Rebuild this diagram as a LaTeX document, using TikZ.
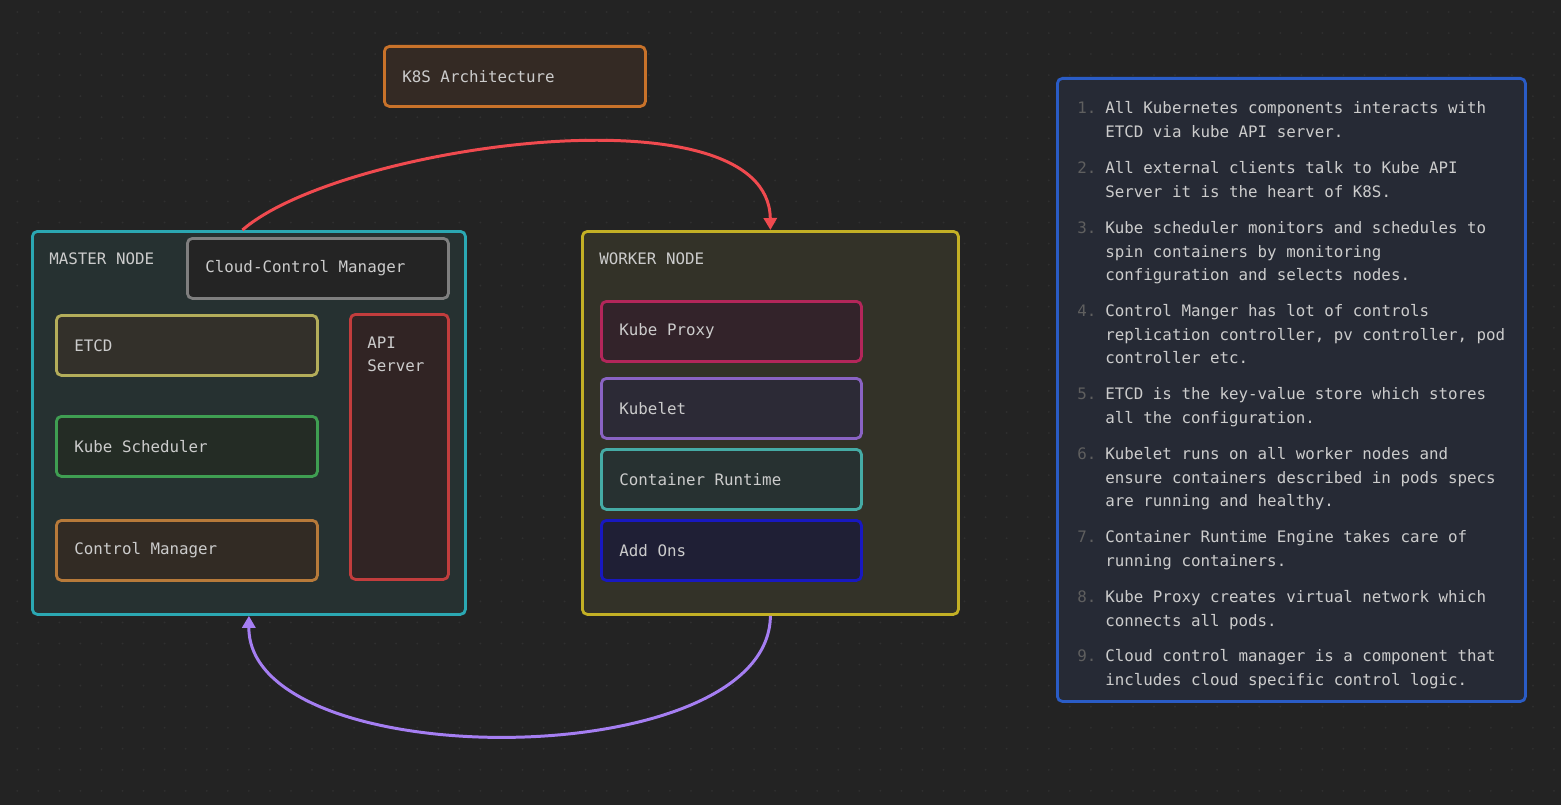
\documentclass[tikz,border=0pt]{standalone}
\usepackage{fontspec}
\setmainfont{DejaVu Sans Mono}
\usetikzlibrary{arrows.meta}

\definecolor{bgc}{HTML}{232323}
\definecolor{dotc}{HTML}{303030}
\definecolor{txtc}{HTML}{CCCCCC}
\definecolor{numc}{HTML}{5F5F5F}
\definecolor{titlec}{HTML}{C8722A}
\definecolor{titlef}{HTML}{342A24}
\definecolor{masterc}{HTML}{2BA8B3}
\definecolor{masterf}{HTML}{263131}
\definecolor{cloudc}{HTML}{7F7F7F}
\definecolor{cloudf}{HTML}{242424}
\definecolor{etcdc}{HTML}{B3AD5A}
\definecolor{etcdf}{HTML}{33302A}
\definecolor{schedc}{HTML}{3F9E52}
\definecolor{schedf}{HTML}{242C25}
\definecolor{ctrlc}{HTML}{B77A3A}
\definecolor{ctrlf}{HTML}{322B24}
\definecolor{apic}{HTML}{C23D3D}
\definecolor{apif}{HTML}{312424}
\definecolor{workerc}{HTML}{C3B025}
\definecolor{workerf}{HTML}{333228}
\definecolor{proxyc}{HTML}{B3265A}
\definecolor{proxyf}{HTML}{33232A}
\definecolor{kubeletc}{HTML}{8A63C4}
\definecolor{kubeletf}{HTML}{2C2A36}
\definecolor{runtimec}{HTML}{45ABA5}
\definecolor{runtimef}{HTML}{273131}
\definecolor{addonsc}{HTML}{1818C0}
\definecolor{addonsf}{HTML}{1F1F35}
\definecolor{notesc}{HTML}{2A5CC6}
\definecolor{notesf}{HTML}{262A35}
\definecolor{redc}{HTML}{F04A4F}
\definecolor{purplec}{HTML}{A57EF2}

\newcommand{\monofont}{\fontsize{9}{13.5}\selectfont}
\newcommand{\monospaces}{\spaceskip=5.42pt\relax\xspaceskip=5.42pt\relax}

\begin{document}
\begin{tikzpicture}[scale=0.2]
      \tikzstyle{every node}+=[font=\monofont, text=txtc, execute at begin node=\monospaces]
      \tikzstyle{box}=[draw, rounded corners=0.1cm, line width=1.6pt, anchor=north west, inner xsep=0.36cm, inner ysep=0pt, minimum height=1.2cm]
      \tikzstyle{lbl}=[inner sep=0pt, anchor=west]
      \tikzstyle{item}=[inner sep=0pt, anchor=base west, text width=8.2cm]
      \tikzstyle{num}=[inner sep=0pt, anchor=base west, text=numc]
      \tikzstyle{link}=[line width=1.7pt, -{Triangle[length=0.24cm,width=0.26cm]}]
      % canvas and dot grid
      \fill [bgc] (0,0) rectangle (156.1,-80.5);
      \useasboundingbox (0,0) rectangle (156.1,-80.5);
      \foreach \i in {0,...,73}
        \foreach \j in {0,...,37}
          \fill [dotc] (1.73+2.105*\i,-1.2-2.105*\j) circle (0.1);
      % title
      \node [box, draw=titlec, fill=titlef, text width=4.5cm] (title) at (38.3,-4.5) {K8S Architecture};
      % master node
      \node [box, draw=masterc, fill=masterf, minimum width=8.66cm, minimum height=7.66cm] (master) at (3.1,-23.0) {};
      \node [lbl] (masterlbl) at (4.9,-25.9) {MASTER NODE};
      \node [box, draw=cloudc, fill=cloudf, text width=4.5cm] (cloud) at (18.6,-23.7) {Cloud-Control Manager};
      \node [box, draw=etcdc, fill=etcdf, text width=4.5cm] (etcd) at (5.5,-31.4) {ETCD};
      \node [box, draw=schedc, fill=schedf, text width=4.5cm] (sched) at (5.5,-41.5) {Kube Scheduler};
      \node [box, draw=ctrlc, fill=ctrlf, text width=4.5cm] (ctrl) at (5.5,-51.9) {Control Manager};
      \node [box, draw=apic, fill=apif, minimum width=1.96cm, minimum height=5.3cm] (api) at (34.9,-31.3) {};
      \node [item, text width=1.5cm] (apilbl) at (36.7,-34.8) {API\\Server};
      % worker node
      \node [box, draw=workerc, fill=workerf, minimum width=7.52cm, minimum height=7.66cm] (worker) at (58.1,-23.0) {};
      \node [lbl] (workerlbl) at (59.9,-25.9) {WORKER NODE};
      \node [box, draw=proxyc, fill=proxyf, text width=4.48cm] (proxy) at (60.0,-30.0) {Kube Proxy};
      \node [box, draw=kubeletc, fill=kubeletf, text width=4.48cm] (kubelet) at (60.0,-37.7) {Kubelet};
      \node [box, draw=runtimec, fill=runtimef, text width=4.48cm] (runtime) at (60.0,-44.8) {Container Runtime};
      \node [box, draw=addonsc, fill=addonsf, text width=4.48cm] (addons) at (60.0,-51.9) {Add Ons};
      % links
      \draw [link, redc] ([xshift=-0.65cm]master.north) .. controls (34.0,-14.5) and (76.9,-8.5) .. (worker.north);
      \draw [link, purplec] (worker.south) .. controls (76.9,-77.6) and (24.8,-77.6) .. (master.south);
      % notes
      \node [box, draw=notesc, fill=notesf, minimum width=9.36cm, minimum height=12.46cm] (notes) at (105.6,-7.7) {};
      \node [num] (n1) at (107.7,-11.35) {1.};
      \node [item] (t1) at (110.5,-11.35) {All Kubernetes components interacts with\\ETCD via kube API server.};
      \node [num] (n2) at (107.7,-17.35) {2.};
      \node [item] (t2) at (110.5,-17.35) {All external clients talk to Kube API\\Server it is the heart of K8S.};
      \node [num] (n3) at (107.7,-23.35) {3.};
      \node [item] (t3) at (110.5,-23.35) {Kube scheduler monitors and schedules to\\spin containers by monitoring\\configuration and selects nodes.};
      \node [num] (n4) at (107.7,-31.65) {4.};
      \node [item] (t4) at (110.5,-31.65) {Control Manger has lot of controls\\replication controller, pv controller, pod\\controller etc.};
      \node [num] (n5) at (107.7,-39.95) {5.};
      \node [item] (t5) at (110.5,-39.95) {ETCD is the key-value store which stores\\all the configuration.};
      \node [num] (n6) at (107.7,-45.95) {6.};
      \node [item] (t6) at (110.5,-45.95) {Kubelet runs on all worker nodes and\\ensure containers described in pods specs\\are running and healthy.};
      \node [num] (n7) at (107.7,-54.25) {7.};
      \node [item] (t7) at (110.5,-54.25) {Container Runtime Engine takes care of\\running containers.};
      \node [num] (n8) at (107.7,-60.25) {8.};
      \node [item] (t8) at (110.5,-60.25) {Kube Proxy creates virtual network which\\connects all pods.};
      \node [num] (n9) at (107.7,-66.15) {9.};
      \node [item] (t9) at (110.5,-66.15) {Cloud control manager is a component that\\includes cloud specific control logic.};
\end{tikzpicture}
\end{document}
